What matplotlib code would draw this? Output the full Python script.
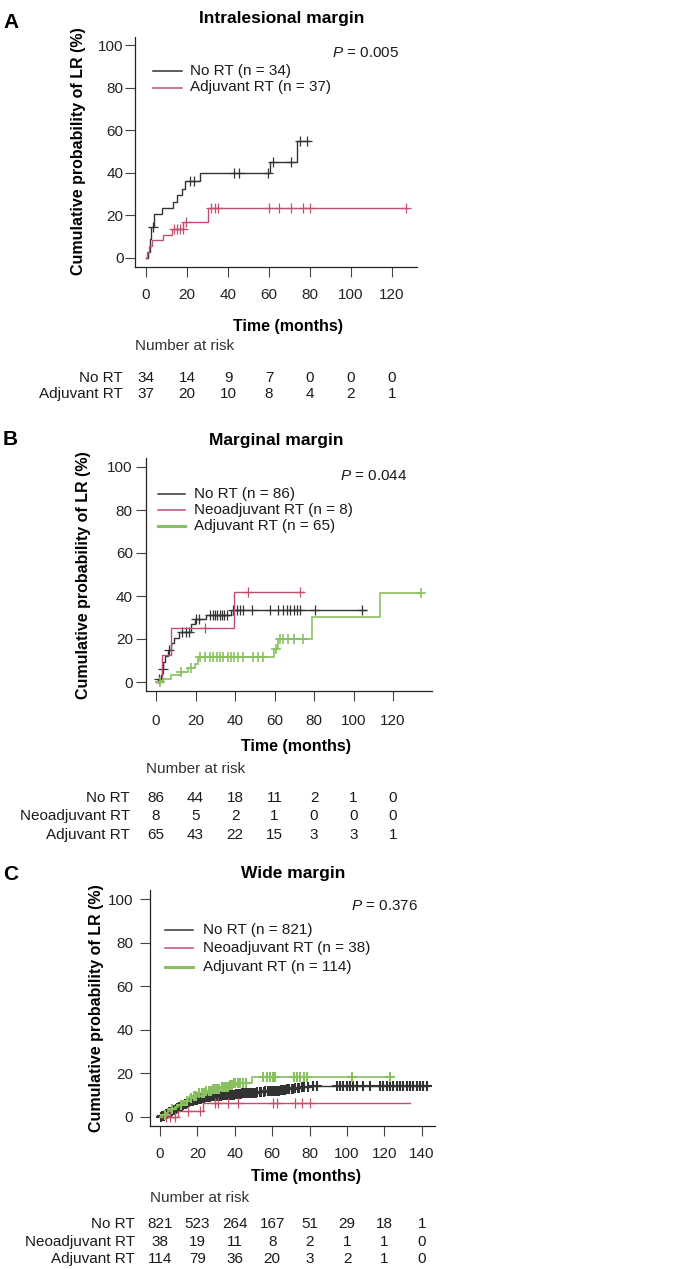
import numpy as np
import matplotlib
matplotlib.use("Agg")
import matplotlib.pyplot as plt
from matplotlib.lines import Line2D
from matplotlib import transforms

plt.rcParams['font.family'] = ['Liberation Sans', 'DejaVu Sans']
plt.rcParams['mathtext.fontset'] = 'custom'
plt.rcParams['mathtext.it'] = 'Liberation Sans:italic'
plt.rcParams['mathtext.rm'] = 'Liberation Sans'

W, H = 684, 1269

# ---------------- data (months, cumulative %) ----------------
# A: intralesional margin
A_NORT_T = [0, 1.0, 1.8, 2.6, 3.9, 7.6, 13.3, 15.0, 17.4, 19.0, 26.3, 60.5, 73.8]
A_NORT_V = [0, 3.0, 8.8, 14.7, 20.6, 23.5, 26.5, 29.4, 32.6, 36.0, 39.9, 45.3, 54.7]
A_NORT_C = [3.3, 21.5, 23.2, 42.8, 45.5, 59.5, 61.8, 70.5, 75.0, 78.5]
A_NORT_END = 79.5

A_ADJ_T = [0, 0.7, 1.5, 2.8, 8.5, 12.5, 18.2, 30.4]
A_ADJ_V = [0, 2.7, 5.4, 8.3, 11.0, 13.7, 16.9, 23.7]
A_ADJ_C = [13.5, 15.0, 16.6, 17.9, 19.5, 31.7, 33.5, 35.3, 60.2, 65.0, 70.6, 76.7, 80.0, 126.8]
A_ADJ_END = 127.5

A_RISK_T = [0, 20, 40, 60, 80, 100, 120]
A_RISK_NORT = [34, 14, 9, 7, 0, 0, 0]
A_RISK_ADJ = [37, 20, 10, 8, 4, 2, 1]

# B: marginal margin
B_NORT_T = [0, 1.2, 2.3, 3.0, 3.5, 4.8, 6.0, 7.5, 9.3, 11.8, 17.5, 19.5, 25.5, 38.0]
B_NORT_V = [0, 1.5, 3.1, 6.2, 9.1, 12.3, 15.0, 18.0, 20.5, 23.2, 26.8, 29.5, 31.1, 33.6]
B_NORT_C = [1.5, 3.3, 6.5, 13.4, 15.0, 16.7, 20.2, 21.8, 27.4, 28.6, 29.8, 31.0, 32.2,
            33.4, 34.6, 36.0, 39.0, 41.0, 42.5, 44.2, 48.4, 57.7, 62.0, 64.5, 66.2,
            67.9, 69.6, 71.3, 73.0, 80.5, 104.4]
B_NORT_END = 106.5

B_NEO_T = [0, 2.8, 7.4, 39.5]
B_NEO_V = [0, 12.5, 25.0, 41.7]
B_NEO_C = [25.0, 46.6, 73.0]
B_NEO_END = 74.5

B_ADJ_T = [0, 3.6, 7.7, 12.5, 16.0, 19.5, 21.2, 59.5, 61.5, 79.0, 113.4]
B_ADJ_V = [0, 1.6, 3.2, 4.8, 6.4, 8.3, 11.7, 15.5, 19.8, 30.4, 41.5]
B_ADJ_C = [2.0, 12.6, 17.5, 22.5, 24.9, 27.4, 29.0, 30.7, 32.3, 33.9, 36.4, 38.0,
           39.7, 41.3, 43.8, 49.2, 51.6, 54.4, 60.5, 62.8, 64.3, 66.8, 69.9, 74.4, 134.0]
B_ADJ_END = 134.0

B_RISK_T = [0, 20, 40, 60, 80, 100, 120]
B_RISK_NORT = [86, 44, 18, 11, 2, 1, 0]
B_RISK_NEO = [8, 5, 2, 1, 0, 0, 0]
B_RISK_ADJ = [65, 43, 22, 15, 3, 3, 1]

# C: wide margin
C_NORT_T = [0, 1, 2, 3, 4, 5, 6, 7, 8, 9, 10, 11, 12, 13, 14, 15, 16, 18, 20, 22, 24,
            27, 30, 33, 36, 40, 44, 48, 52, 56, 60, 64, 68, 72, 75, 80]
C_NORT_V = [0, 0.4, 0.8, 1.3, 1.8, 2.3, 2.8, 3.3, 3.8, 4.3, 4.7, 5.2, 5.6, 6.0, 6.4,
            6.8, 7.2, 7.8, 8.4, 8.8, 9.1, 9.4, 9.7, 10.0, 10.3, 10.6, 10.9, 11.2, 11.5,
            11.8, 12.1, 12.5, 12.9, 13.4, 13.9, 14.3]
C_NORT_C = [0.4, 1.2, 1.9, 2.6, 3.1, 3.8, 4.4, 5.0, 5.7, 6.3, 7.1, 7.6, 8.4, 9.0, 9.7,
            10.3, 11.1, 11.8, 12.4, 13.2, 13.9, 14.5, 15.3, 16.0, 16.8, 17.5, 18.1, 18.9,
            19.6, 20.4, 21.2, 21.9, 22.7, 23.5, 24.2, 25.1, 25.9, 26.6, 27.4, 28.3, 29.1,
            30.0, 30.8, 31.7, 32.5, 33.4, 34.2, 35.1, 36.0, 36.9, 37.8, 38.6, 39.5, 40.4,
            41.3, 42.2, 43.2, 44.1, 45.0, 46.0, 47.1, 48.0, 49.1, 50.0, 51.2, 52.1, 53.3,
            54.2, 55.4, 56.3, 57.5, 58.4, 59.6, 60.5, 61.7, 62.6, 63.8, 64.7, 65.9, 66.8,
            68.0, 69.1, 70.3, 71.2, 72.4, 73.6, 74.5, 75.7, 77.0, 79.3, 82.0, 83.8, 94.5,
            96.3, 98.0, 99.8, 101.6, 103.4, 105.2, 108.7, 112.3, 117.6, 119.4, 121.2,
            123.0, 124.8, 126.6, 128.3, 130.1, 131.9, 133.6, 135.4, 137.2, 139.0, 140.8,
            142.6]
C_NORT_END = 143.0

C_NEO_T = [0, 9.8, 23.2]
C_NEO_V = [0, 2.9, 6.2]
C_NEO_C = [3.0, 5.3, 8.0, 15.1, 21.4, 29.4, 31.0, 36.5, 41.9, 60.6, 62.4, 72.2, 75.8, 80.2]
C_NEO_END = 133.7

C_ADJ_T = [0, 1, 2.7, 4.5, 6.2, 8, 9.8, 11.5, 13.4, 15, 17, 20.5, 24, 27.6, 33, 36.5, 39.2, 49.4]
C_ADJ_V = [0, 0.9, 1.8, 2.7, 3.6, 4.5, 5.4, 6.4, 7.5, 8.5, 9.8, 11.0, 12.0, 12.9, 13.8,
           14.8, 15.6, 18.2]
C_ADJ_C = [2.5, 6.5, 11.0, 14.5, 16.5, 18.0, 19.5, 21.0, 22.3, 23.5, 24.8, 26.0, 27.2,
           28.4, 29.5, 30.7, 31.8, 33.0, 34.1, 35.2, 36.3, 37.3, 38.3, 39.3, 40.3, 41.5,
           43.0, 44.5, 46.0, 55.3, 57.0, 59.0, 60.2, 61.6, 71.4, 73.1, 75.0, 76.8, 78.5,
           102.5, 123.0]
C_ADJ_END = 124.5

C_RISK_T = [0, 20, 40, 60, 80, 100, 120, 140]
C_RISK_NORT = [821, 523, 264, 167, 51, 29, 18, 1]
C_RISK_NEO = [38, 19, 11, 8, 2, 1, 1, 0]
C_RISK_ADJ = [114, 79, 36, 20, 3, 2, 1, 0]

BLACK = '#333333'
RED = '#c24f6c'
GREEN = '#89c161'
TXT = '#1a1a1a'

fig = plt.figure(figsize=(W / 100, H / 100), dpi=100)
fig.patch.set_facecolor('white')


def fx(x):
    return x / W


def fy(y):
    return 1 - y / H


def step_value(times, vals, t):
    i = np.searchsorted(np.asarray(times), np.asarray(t), side='right') - 1
    return np.asarray(vals)[i]


def draw_curve(ax, times, vals, cens, end, color, lw=1.0, mew=0.9):
    t = list(times) + [end]
    v = list(vals) + [vals[-1]]
    ax.step(t, v, where='post', color=color, lw=lw, solid_joinstyle='miter')
    ax.plot(cens, step_value(times, vals, cens), ls='none', marker='+', ms=7,
            mew=mew, color=color)


def make_axes(l, r, t, b, xlim, xticks, xpad, ypad):
    ax = fig.add_axes([l / W, 1 - b / H, (r - l) / W, (b - t) / H])
    ax.set_xlim(*xlim)
    ax.set_ylim(-4, 104)
    ax.set_xticks(xticks)
    ax.set_yticks([0, 20, 40, 60, 80, 100])
    for s in ['top', 'right']:
        ax.spines[s].set_visible(False)
    for s in ['left', 'bottom']:
        ax.spines[s].set_color('#222222')
        ax.spines[s].set_linewidth(0.9)
    ax.tick_params(axis='both', direction='out', length=7, width=0.8,
                   color='#444444', labelsize=11, labelcolor='#222222')
    ax.tick_params(axis='x', pad=xpad)
    ax.tick_params(axis='y', pad=ypad)
    ax.set_facecolor('none')
    return ax


def legend(items, x1, x2, xt, ys):
    for (label, color, lw), y in zip(items, ys):
        fig.add_artist(Line2D([fx(x1), fx(x2)], [fy(y), fy(y)], color=color, lw=lw))
        fig.text(fx(xt), fy(y), label, ha='left', va='center', fontsize=11, color=TXT)


def risk_table(ax, times, rows, labels, label_right, baselines, head_x, head_y):
    fig.text(fx(head_x), fy(head_y), 'Number at risk', ha='left', va='baseline',
             fontsize=11, color='#333333')
    blend = transforms.blended_transform_factory(ax.transData, fig.transFigure)
    for row, lab, yb in zip(rows, labels, baselines):
        fig.text(fx(label_right), fy(yb), lab, ha='right', va='baseline',
                 fontsize=11, color=TXT)
        for t, n in zip(times, row):
            ax.text(t, fy(yb), str(n), transform=blend, ha='center', va='baseline',
                    fontsize=11, color=TXT)


def labels(letter, letter_y, title, title_x, title_y, ptxt, p_right, p_y,
           ylab_x, ylab_y, xlab_x, xlab_y):
    fig.text(fx(3), fy(letter_y), letter, ha='left', va='baseline', fontsize=15,
             fontweight='bold', color='black')
    fig.text(fx(title_x), fy(title_y), title, ha='center', va='baseline',
             fontsize=12.5, fontweight='bold', color='black')
    fig.text(fx(p_right), fy(p_y), r'$P$ = ' + ptxt, ha='right', va='baseline',
             fontsize=11, color=TXT)
    fig.text(fx(ylab_x), fy(ylab_y), 'Cumulative probability of LR (%)', rotation=90,
             ha='center', va='center', fontsize=11.5, fontweight='bold', color='black')
    fig.text(fx(xlab_x), fy(xlab_y), 'Time (months)', ha='center', va='baseline',
             fontsize=11.5, fontweight='bold', color='black')


# ---------------- panel A ----------------
axA = make_axes(135, 417, 36.5, 266.5, (-5.37, 132.2), A_RISK_T, 8.2, 1.3)
draw_curve(axA, A_NORT_T, A_NORT_V, A_NORT_C, A_NORT_END, BLACK)
draw_curve(axA, A_ADJ_T, A_ADJ_V, A_ADJ_C, A_ADJ_END, RED)
labels('A', 28.5, 'Intralesional margin', 282, 23.5, '0.005', 399, 57,
       79, 151, 288, 330.5)
legend([('No RT (n = 34)', BLACK, 1.1), ('Adjuvant RT (n = 37)', RED, 1.1)],
       153, 182, 190, [70.5, 87.5])
risk_table(axA, A_RISK_T, [A_RISK_NORT, A_RISK_ADJ], ['No RT', 'Adjuvant RT'],
           123, [382, 398], 135, 350)

# ---------------- panel B ----------------
axB = make_axes(146, 432, 458.4, 690.6, (-5.06, 139.7), B_RISK_T, 9.5, 2.5)
draw_curve(axB, B_NORT_T, B_NORT_V, B_NORT_C, B_NORT_END, BLACK)
draw_curve(axB, B_NEO_T, B_NEO_V, B_NEO_C, B_NEO_END, RED)
draw_curve(axB, B_ADJ_T, B_ADJ_V, B_ADJ_C, B_ADJ_END, GREEN, lw=1.2, mew=1.2)
labels('B', 445, 'Marginal margin', 276, 445, '0.044', 407, 480,
       84, 575, 296, 750.5)
legend([('No RT (n = 86)', BLACK, 1.1), ('Neoadjuvant RT (n = 8)', RED, 1.1),
        ('Adjuvant RT (n = 65)', GREEN, 2.2)],
       158, 185, 194, [494, 510, 526])
risk_table(axB, B_RISK_T, [B_RISK_NORT, B_RISK_NEO, B_RISK_ADJ],
           ['No RT', 'Neoadjuvant RT', 'Adjuvant RT'], 130, [802, 820, 839], 146, 773)

# ---------------- panel C ----------------
axC = make_axes(150, 435, 890.3, 1125.7, (-5.34, 147.0), C_RISK_T, 8.0, 5.0)
draw_curve(axC, C_NORT_T, C_NORT_V, C_NORT_C, C_NORT_END, BLACK, mew=1.5)
draw_curve(axC, C_NEO_T, C_NEO_V, C_NEO_C, C_NEO_END, RED)
draw_curve(axC, C_ADJ_T, C_ADJ_V, C_ADJ_C, C_ADJ_END, GREEN, lw=1.2, mew=1.5)
labels('C', 880, 'Wide margin', 293, 878, '0.376', 418, 910,
       97, 1008, 306, 1181.5)
legend([('No RT (n = 821)', BLACK, 1.1), ('Neoadjuvant RT (n = 38)', RED, 1.1),
        ('Adjuvant RT (n = 114)', GREEN, 2.2)],
       165, 193, 203, [930, 948, 967])
risk_table(axC, C_RISK_T, [C_RISK_NORT, C_RISK_NEO, C_RISK_ADJ],
           ['No RT', 'Neoadjuvant RT', 'Adjuvant RT'], 135, [1228, 1246, 1263], 150, 1202)

fig.savefig('out.png', dpi=100, facecolor='white')
